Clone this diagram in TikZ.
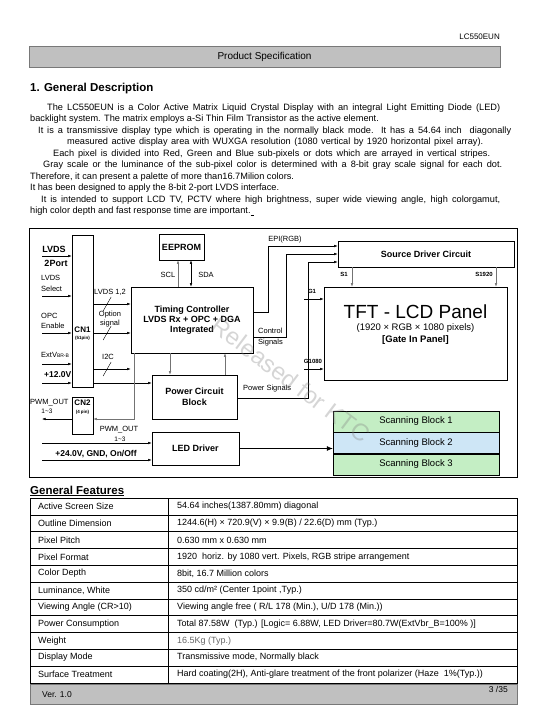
\documentclass[tikz,border=0pt]{standalone}
\usepackage{fontspec}
\setmainfont{Liberation Sans}
\usetikzlibrary{positioning, arrows.meta, calc}

\definecolor{barfill}{RGB}{192,192,192}
\definecolor{barline}{RGB}{120,120,120}
\definecolor{scangreen}{RGB}{196,238,196}
\definecolor{scanblue}{RGB}{206,230,246}

\newcommand{\pxsize}[1]{\fontsize{#1}{#1}\selectfont}
% short slash across a bus arrow
\newcommand{\busmark}[1]{\draw[line width=0.4pt] ($(#1)+(-4,7)$) -- ($(#1)+(4,-7)$);}
% a justified line of the description
\newcommand{\jline}[2]{\makebox[#1][s]{#2}}

\begin{document}
\begin{tikzpicture}[
        x=1pt, y=-1pt,
        % boxes of the block diagram
        box/.style={draw, line width=0.7pt, inner sep=0pt, align=center, font=\pxsize{9}\bfseries},
        % signal names beside the arrows
        lbl/.style={inner sep=0pt, font=\pxsize{7.5}},
        blbl/.style={inner sep=0pt, font=\pxsize{8.5}\bfseries},
        pin/.style={inner sep=0pt, font=\pxsize{6}\bfseries},
        para/.style={inner sep=0pt, anchor=base west, font=\pxsize{9.2}},
        cell/.style={inner sep=0pt, anchor=west, font=\pxsize{9}},
        scan/.style={draw, line width=0.5pt, minimum width=166pt, minimum height=21pt, inner sep=0pt, font=\pxsize{9.5}},
        arr/.style={-{Latex[length=3.5pt,width=2.6pt]}, line width=0.5pt},
        garr/.style={arr, draw=black!55},
        bar/.style={draw=barline, fill=barfill, line width=0.8pt, inner sep=0pt}
    ]
    \useasboundingbox (0,0) rectangle (540,720);

    % ==========================================
    % PAGE HEADER
    % ==========================================
    \node[inner sep=0pt, anchor=base east, font=\pxsize{8}] (model) at (500,39) {LC550EUN};
    \node[bar, minimum width=471pt, minimum height=21pt, font=\pxsize{10}] (hdr) at (264.5,56.5) {Product Specification};

    \node[inner sep=0pt, anchor=base west, font=\pxsize{11.5}\bfseries] (sec) at (30,91) {1. General Description};

    % description text, one node per printed line
    \foreach \px/\ln [count=\i] in {
        47/{\jline{453pt}{The LC550EUN is a Color Active Matrix Liquid Crystal Display with an integral Light Emitting Diode (LED)}},
        30/{backlight system. The matrix employs a-Si Thin Film Transistor as the active element.},
        38/{\jline{473pt}{It is a transmissive display type which is operating in the normally black mode. It has a 54.64 inch\ \ diagonally}},
        67/{\jline{416pt}{measured active display area with WUXGA resolution (1080 vertical by 1920 horizontal pixel array).}},
        53/{\jline{437pt}{Each pixel is divided into Red, Green and Blue sub-pixels or dots which are arrayed in vertical stripes.}},
        43/{\jline{459pt}{Gray scale or the luminance of the sub-pixel color is determined with a 8-bit gray scale signal for each dot.}},
        30/{Therefore, it can present a palette of more than16.7Milion colors.},
        30/{It has been designed to apply the 8-bit 2-port LVDS interface.},
        41/{\jline{459pt}{It is intended to support LCD TV, PCTV where high brightness, super wide viewing angle, high colorgamut,}},
        30/{high color depth and fast response time are important.\underline{\hspace{3pt}}}}
        \node[para] (par\i) at ({\px},{98.5+11.5*\i}) {\ln};

    % ==========================================
    % BLOCK DIAGRAM
    % ==========================================
    \draw[line width=0.8pt] (29,228) rectangle (517,477);

    % boxes
    \node[box, minimum width=21pt, minimum height=152pt] (cn1) at (82.5,311) {};
    \node[box, minimum width=21pt, minimum height=37pt] (cn2) at (82.5,415.5) {};
    \node[box, minimum width=45pt, minimum height=26pt] (eeprom) at (181.5,247) {EEPROM};
    \node[box, minimum width=122pt, minimum height=66pt] (tc) at (192,320) {Timing Controller\\[1pt]LVDS Rx + OPC + DGA\\[1pt]Integrated};
    \node[box, minimum width=85pt, minimum height=44pt] (pcb) at (194.5,397) {Power Circuit\\[2pt]Block};
    \node[box, minimum width=87pt, minimum height=33pt] (led) at (195.5,448.5) {LED Driver};
    \node[box, minimum width=176pt, minimum height=26pt] (sdc) at (426,254) {Source Driver Circuit};
    \node[box, minimum width=183pt, minimum height=93pt] (panel) at (415.5,333.5) {};
    \node[scan, fill=scangreen] (scan1) at (416,421.5) {Scanning Block 1};
    \node[scan, fill=scanblue, below=0pt of scan1] (scan2) {Scanning Block 2};
    \node[scan, fill=scangreen, below=0pt of scan2] (scan3) {Scanning Block 3};

    % texts inside the connectors and the panel
    \node[pin, font=\pxsize{8}\bfseries] (cn1name) at (82.5,330) {CN1};
    \node[pin, font=\pxsize{4.5}\bfseries] (cn1pins) at (82.5,338) {(51pin)};
    \node[pin, font=\pxsize{8}\bfseries] (cn2name) at (82.5,403) {CN2};
    \node[pin, font=\pxsize{4.5}\bfseries] (cn2pins) at (82.5,412) {(4 pin)};
    \node[inner sep=0pt, font=\pxsize{19}] (paneltitle) at (415.5,312) {TFT - LCD Panel};
    \node[inner sep=0pt, font=\pxsize{9.5}, below=4pt of paneltitle] (panelres) {(1920 × RGB × 1080 pixels)};
    \node[inner sep=0pt, font=\pxsize{9.5}\bfseries, below=2.5pt of panelres] (panelgip) {[Gate In Panel]};

    % inputs on the left
    \coordinate (lvdsin) at (42,256);
    \coordinate (selin) at (42,296);
    \coordinate (opcin) at (42,333);
    \coordinate (vbrin) at (42,364);
    \coordinate (v12in) at (42,383);
    \coordinate (pwmout) at (42,419);
    \coordinate (pwmin) at (42,443);
    \coordinate (p24in) at (42,460);

    \node[inner sep=0pt, font=\pxsize{9}\bfseries] (lvdsname) at (54,249) {LVDS};
    \node[inner sep=0pt, font=\pxsize{9}\bfseries] (lvdsport) at (56,263) {2Port};
    \node[lbl, anchor=west] (selname1) at (41,278) {LVDS};
    \node[lbl, anchor=west] (selname2) at (41,289) {Select};
    \node[lbl, anchor=west] (opcname1) at (41,316) {OPC};
    \node[lbl, anchor=west] (opcname2) at (41,326) {Enable};
    \node[lbl, anchor=west] (vbrname) at (41,355) {ExtV{\pxsize{5}BR-B}};
    \node[blbl, anchor=west] (v12name) at (44,375) {+12.0V};
    \node[lbl, anchor=west] (pwmname) at (30,403) {PWM\_OUT};
    \node[lbl, font=\pxsize{6.5}] (pwmnum) at (47,411) {1\textasciitilde3};

    \draw[arr] (lvdsin) -- (lvdsin -| cn1.west);
    \draw[arr] (selin) -- (selin -| cn1.west);
    \draw[arr] (opcin) -- (opcin -| cn1.west);
    \draw[arr] (vbrin) -- (vbrin -| cn1.west);
    \draw[arr] (v12in) -- (v12in -| cn1.west);
    \draw[arr] (cn2.west |- pwmout) -- (pwmout);

    % CN1 to timing controller
    \draw[arr] (cn1.east |- 0,304) -- coordinate[pos=0.37] (bus1) (tc.west |- 0,304);
    \draw[arr] (cn1.east |- 0,333) -- coordinate[pos=0.37] (bus2) (tc.west |- 0,333);
    \draw[arr] (cn1.east |- 0,369) -- coordinate[pos=0.37] (bus3) (tc.west |- 0,369);
    \busmark{bus1}
    \busmark{bus2}
    \busmark{bus3}
    \node[lbl] (lvds12) at (110,292) {LVDS 1,2};
    \node[lbl] (optname1) at (110,315) {Option};
    \node[lbl] (optname2) at (110,324) {signal};
    \node[lbl] (i2cname) at (108,357) {I2C};

    % +12V straight through CN1
    \draw[arr] (cn1.east |- v12in) -- (pcb.west |- v12in);

    % I2C return path to CN2
    \draw[garr] ([xshift=4pt]tc.south west) |- (cn2.east |- pwmout);

    % EEPROM bus
    \draw[garr] ([xshift=-3.5pt]eeprom.south |- tc.north) -- ([xshift=-3.5pt]eeprom.south);
    \draw[arr, {Latex[length=3.5pt,width=2.6pt]}-{Latex[length=3.5pt,width=2.6pt]}] ([xshift=9.5pt]eeprom.south) -- ([xshift=9.5pt]eeprom.south |- tc.north);
    \node[lbl] (sclname) at (168,275) {SCL};
    \node[lbl] (sdaname) at (206,275) {SDA};

    % timing controller and power block
    \draw[garr] ([xshift=-22pt]tc.south) -- ([xshift=-22pt]tc.south |- pcb.north);
    \draw[garr] ([xshift=33pt]tc.south |- pcb.north) -- ([xshift=33pt]tc.south);

    % signals to the source driver
    \draw[arr] (tc.east |- 0,312) -| (268,246) -- (sdc.west |- 0,246);
    \draw[arr] (tc.east |- 0,337) -| (286,254) -- (sdc.west |- 0,254);
    \draw[arr] (pcb.east |- 0,398) -| (308,262) -- (sdc.west |- 0,262);
    \node[lbl] (epiname) at (285,240) {EPI(RGB)};
    \node[lbl, anchor=west] (ctrlname1) at (258,331) {Control};
    \node[lbl, anchor=west] (ctrlname2) at (258,343) {Signals};
    \node[lbl, anchor=west] (pwrname) at (243,389) {Power Signals};

    % source and gate lines
    \draw[garr] (sdc.south -| 352,0) -- (panel.north -| 352,0);
    \draw[garr] (sdc.south -| 496,0) -- (panel.north -| 496,0);
    \coordinate (g1in) at (304,299);
    \coordinate (gnin) at (304,369);
    \draw[arr] (g1in) -- (g1in -| panel.west);
    \draw[arr] (gnin) -- (gnin -| panel.west);
    \node[pin] (s1name) at (344,274) {S1};
    \node[pin] (snname) at (484,274) {S1920};
    \node[pin] (g1name) at (312,291) {G1};
    \node[pin] (gnname) at (313,361) {G1080};

    % LED driver
    \draw[arr] (pwmin) -- (pwmin -| led.west);
    \draw[arr] (p24in) -- (p24in -| led.west);
    \node[lbl] (pwmin1) at (119,430) {PWM\_OUT};
    \node[lbl, font=\pxsize{6.5}] (pwmin2) at (120,439) {1\textasciitilde3};
    \node[blbl] (p24name) at (96,454) {+24.0V, GND, On/Off};
    \draw[-{Latex[length=6pt,width=5pt]}, line width=0.6pt] (led.east) -- (led.east -| scan2.west);

    % watermark
    \node[rotate=-37, font=\pxsize{24}, text=black!50, opacity=0.33] (stampnote) at (291,380) {Released for KTC};

    % ==========================================
    % GENERAL FEATURES TABLE
    % ==========================================
    \node[inner sep=0pt, anchor=base west, font=\pxsize{11.5}\bfseries] (feat) at (30,494) {\underline{General Features}};
    \draw[line width=0.9pt] (30,498) rectangle (517,683);
    \foreach \i in {1,...,10}
        \draw[line width=0.5pt] (30,{498+16.8*\i}) -- (517,{498+16.8*\i});
    \draw[line width=0.5pt] (168,498) -- (168,683);
    \foreach \kt/\vt [count=\i] in {
        {Active Screen Size}/{54.64 inches(1387.80mm) diagonal},
        {Outline Dimension}/{1244.6(H) × 720.9(V) × 9.9(B) / 22.6(D) mm (Typ.)},
        {Pixel Pitch}/{0.630 mm x 0.630 mm},
        {Pixel Format}/{1920\ \ horiz. by 1080 vert. Pixels, RGB stripe arrangement},
        {Color Depth}/{8bit, 16.7 Million colors},
        {Luminance, White}/{350 cd/m² (Center 1point ,Typ.)},
        {Viewing Angle (CR>10)}/{Viewing angle free ( R/L 178 (Min.), U/D 178 (Min.))},
        {Power Consumption}/{Total 87.58W\ \ (Typ.) [Logic= 6.88W, LED Driver=80.7W(ExtVbr\_B=100\% )]},
        {Weight}/{\color{black!60}16.5Kg (Typ.)},
        {Display Mode}/{Transmissive mode, Normally black},
        {Surface Treatment}/{Hard coating(2H), Anti-glare treatment of the front polarizer (Haze\ \ 1\%(Typ.))}} {
        \node[cell] (key\i) at (38,{489.6+16.8*\i}) {\kt};
        \node[cell] (val\i) at (177,{489.6+16.8*\i}) {\vt};
    }

    % ==========================================
    % PAGE FOOTER
    % ==========================================
    \node[bar, minimum width=487pt, minimum height=20pt] (ftr) at (273.5,694) {};
    \node[inner sep=0pt, anchor=west, font=\pxsize{8.5}] (ver) at (42,695) {Ver. 1.0};
    \node[inner sep=0pt, anchor=east, font=\pxsize{8.5}] (pg) at (508,689) {3 /35};
\end{tikzpicture}
\end{document}
